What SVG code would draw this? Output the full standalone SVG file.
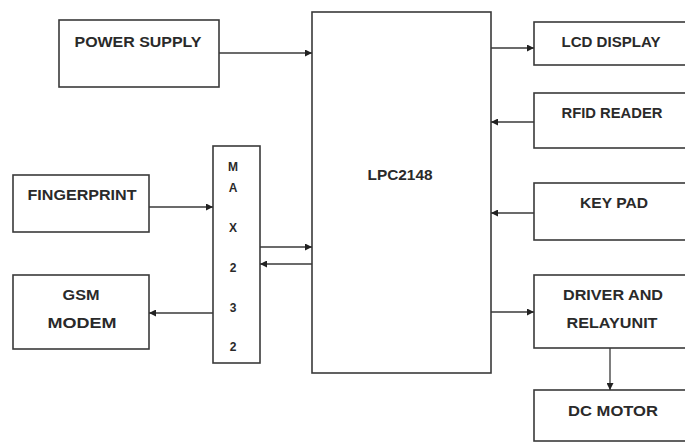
<svg xmlns="http://www.w3.org/2000/svg" width="685" height="443" viewBox="0 0 685 443">
<style>
.box{fill:#fff;stroke:#3a3a3a;stroke-width:1.6}
.t{font-family:"Liberation Sans",Arial,sans-serif;font-weight:bold;font-size:14px;fill:#2a2a2a;text-anchor:middle;dominant-baseline:central}
.m{font-size:12px}
.c{stroke:#3a3a3a;stroke-width:1.3;fill:none;marker-end:url(#ah)}
</style>
<defs>
<marker id="ah" viewBox="0 0 10 10" refX="10" refY="5" markerWidth="7" markerHeight="7" markerUnits="userSpaceOnUse" orient="auto">
<path d="M0,0 L10,5 L0,10 z" fill="#222"/>
</marker>
</defs>
<rect width="685" height="443" fill="#fff"/>
<g id="power"><rect class="box" x="59" y="20" width="160" height="67"/><text class="t" x="138" y="42" textLength="127" lengthAdjust="spacingAndGlyphs">POWER SUPPLY</text></g>
<g id="lpc"><rect class="box" x="312" y="12" width="179" height="361"/><text class="t" x="400" y="175" textLength="65" lengthAdjust="spacingAndGlyphs">LPC2148</text></g>
<g id="lcd"><rect class="box" x="534" y="22" width="160" height="43"/><text class="t" x="611" y="42" textLength="99" lengthAdjust="spacingAndGlyphs">LCD DISPLAY</text></g>
<g id="rfid"><rect class="box" x="534" y="93" width="160" height="55"/><text class="t" x="612" y="113" textLength="101" lengthAdjust="spacingAndGlyphs">RFID READER</text></g>
<g id="keypad"><rect class="box" x="534" y="183" width="160" height="57"/><text class="t" x="614" y="203" textLength="68" lengthAdjust="spacingAndGlyphs">KEY PAD</text></g>
<g id="driver"><rect class="box" x="534" y="275" width="160" height="73"/><text class="t" x="613" y="295" textLength="100" lengthAdjust="spacingAndGlyphs">DRIVER AND</text><text class="t" x="612" y="323" textLength="91" lengthAdjust="spacingAndGlyphs">RELAYUNIT</text></g>
<g id="dcmotor"><rect class="box" x="534" y="390" width="160" height="51"/><text class="t" x="613" y="411" textLength="90" lengthAdjust="spacingAndGlyphs">DC MOTOR</text></g>
<g id="fingerprint"><rect class="box" x="13" y="175" width="136" height="57"/><text class="t" x="82" y="195" textLength="109" lengthAdjust="spacingAndGlyphs">FINGERPRINT</text></g>
<g id="gsm"><rect class="box" x="13" y="275" width="136" height="74"/><text class="t" x="81" y="295" textLength="37" lengthAdjust="spacingAndGlyphs">GSM</text><text class="t" x="82" y="323" textLength="69" lengthAdjust="spacingAndGlyphs">MODEM</text></g>
<g id="max232"><rect class="box" x="213" y="146" width="47" height="217"/>
<text class="t m" x="233" y="167">M</text><text class="t m" x="233" y="188">A</text><text class="t m" x="233" y="228">X</text><text class="t m" x="233" y="268">2</text><text class="t m" x="233" y="308">3</text><text class="t m" x="233" y="347">2</text></g>
<g id="connectors">
<line class="c" x1="219" y1="53" x2="312" y2="53"/>
<line class="c" x1="491" y1="48" x2="534" y2="48"/>
<line class="c" x1="534" y1="122" x2="491" y2="122"/>
<line class="c" x1="534" y1="213" x2="491" y2="213"/>
<line class="c" x1="491" y1="312" x2="534" y2="312"/>
<line class="c" x1="610" y1="348" x2="610" y2="390"/>
<line class="c" x1="149" y1="207" x2="213" y2="207"/>
<line class="c" x1="260" y1="247" x2="312" y2="247"/>
<line class="c" x1="312" y1="264" x2="260" y2="264"/>
<line class="c" x1="213" y1="313" x2="149" y2="313"/>
</g>
</svg>
